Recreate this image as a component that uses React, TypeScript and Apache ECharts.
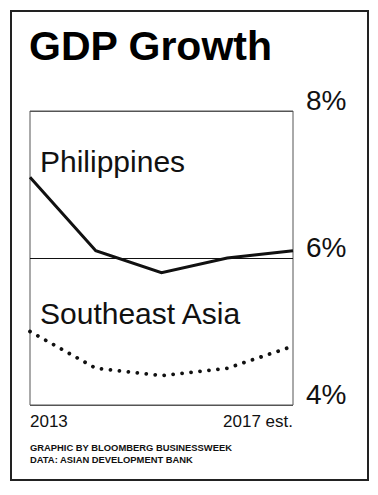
import React, { useEffect, useRef } from "react";
import * as echarts from "echarts";

const years = ["2013", "2014", "2015", "2016", "2017 est."];
const philippines = [7.1, 6.1, 5.8, 6.0, 6.1];
const southeastAsia = [5.0, 4.5, 4.4, 4.5, 4.8];
const yTicks = [4, 6, 8];
const title = "GDP Growth";
const seriesNames = ["Philippines", "Southeast Asia"];
const footer = ["GRAPHIC BY BLOOMBERG BUSINESSWEEK", "DATA: ASIAN DEVELOPMENT BANK"];

const FONT = "'Liberation Sans', Arial, Helvetica, sans-serif";

export default function App() {
  const ref = useRef<HTMLDivElement>(null);
  useEffect(() => {
    if (!ref.current) return;
    const chart = echarts.init(ref.current, undefined, { renderer: "svg" });
    chart.setOption({
      animation: false,
      backgroundColor: "#ffffff",
      grid: {
        left: 30,
        top: 111,
        width: 263,
        height: 294,
        show: true,
        borderColor: "#555",
        borderWidth: 1,
        containLabel: false,
      },
      xAxis: {
        type: "category",
        data: years,
        boundaryGap: false,
        axisLine: { show: false },
        axisTick: { show: false },
        splitLine: { show: false },
        axisLabel: {
          interval: 0,
          margin: 8,
          fontFamily: FONT,
          fontSize: 17,
          lineHeight: 17,
          color: "#111",
          alignMinLabel: "left",
          alignMaxLabel: "right",
          formatter: (v: string, i: number) =>
            i === 0 || i === years.length - 1 ? v : "",
        },
      },
      yAxis: {
        type: "value",
        position: "right",
        min: yTicks[0],
        max: yTicks[yTicks.length - 1],
        interval: 2,
        axisLine: { show: false },
        axisTick: { show: false },
        splitLine: {
          show: true,
          lineStyle: { color: ["#555", "#111", "#555"], width: 1 },
        },
        axisLabel: {
          margin: 13,
          fontFamily: FONT,
          fontSize: 28,
          lineHeight: 22,
          verticalAlign: "bottom",
          color: "#111",
          formatter: "{value}%",
        },
      },
      series: [
        {
          name: seriesNames[0],
          type: "line",
          data: philippines,
          symbol: "none",
          lineStyle: { color: "#111", width: 3, join: "miter" },
        },
        {
          name: seriesNames[1],
          type: "line",
          data: southeastAsia,
          symbol: "none",
          lineStyle: { color: "#111", width: 3.8, type: [0.01, 9], cap: "round" },
        },
      ],
      graphic: [
        {
          type: "rect",
          shape: { x: 11, y: 11, width: 357, height: 469 },
          style: { fill: "none", stroke: "#222", lineWidth: 2 },
          silent: true,
        },
        {
          type: "text",
          x: 29,
          y: 46,
          style: {
            text: title,
            font: `bold 41px ${FONT}`,
            fill: "#000",
            verticalAlign: "middle",
            lineHeight: 41,
          },
        },
        {
          type: "text",
          x: 40,
          y: 161,
          style: {
            text: seriesNames[0],
            font: `30px ${FONT}`,
            fill: "#111",
            verticalAlign: "middle",
            lineHeight: 30,
          },
        },
        {
          type: "text",
          x: 40,
          y: 313,
          style: {
            text: seriesNames[1],
            font: `30px ${FONT}`,
            fill: "#111",
            verticalAlign: "middle",
            lineHeight: 30,
          },
        },
        {
          type: "text",
          x: 30,
          y: 447.5,
          style: {
            text: footer[0],
            font: `bold 9.4px ${FONT}`,
            fill: "#111",
            verticalAlign: "middle",
            lineHeight: 9,
          },
        },
        {
          type: "text",
          x: 30,
          y: 459,
          style: {
            text: footer[1],
            font: `bold 9.4px ${FONT}`,
            fill: "#111",
            verticalAlign: "middle",
            lineHeight: 9,
          },
        },
      ],
    });
    return () => chart.dispose();
  }, []);
  return (
    <div
      ref={ref}
      style={{ position: "fixed", left: 0, top: 0, width: 378, height: 495, background: "#fff" }}
    />
  );
}
